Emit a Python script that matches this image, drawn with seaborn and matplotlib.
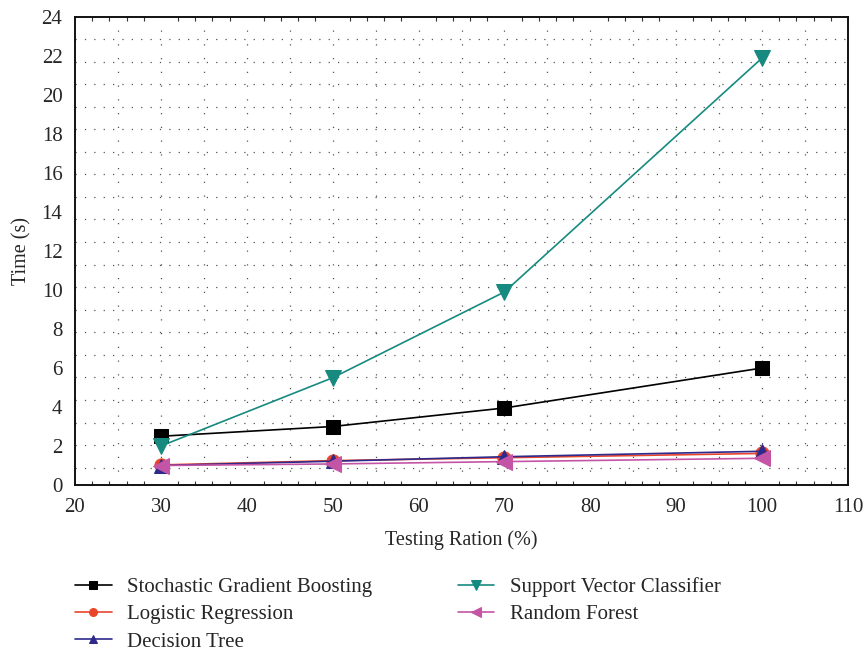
import matplotlib
matplotlib.use("Agg")
import matplotlib.pyplot as plt
import seaborn as sns
import numpy as np
import pandas as pd
from matplotlib.ticker import MultipleLocator

sns.set_theme(style="white")
plt.rcParams["font.family"] = ["Liberation Serif", "DejaVu Serif"]
plt.rcParams["mathtext.fontset"] = "stix"

# Testing ratios (%) and training times (s) per classifier
ratios = [30, 50, 70, 100]
sgb = [2.5, 3.0, 3.95, 6.0]
logreg = [1.03, 1.25, 1.4, 1.62]
dtree = [1.0, 1.22, 1.45, 1.73]
svc = [2.0, 5.5, 9.9, 21.9]
rforest = [1.0, 1.08, 1.2, 1.37]

series = [
    ("Stochastic Gradient Boosting", sgb, "#000000", "s", 9.5),
    ("Logistic Regression", logreg, "#E8452C", "o", 9.5),
    ("Decision Tree", dtree, "#2E2A8C", "^", 10),
    ("Support Vector Classifier", svc, "#178A80", "v", 11),
    ("Random Forest", rforest, "#C455A6", "<", 11),
]

fig = plt.figure(figsize=(8.64, 6.54), dpi=100)
ax = fig.add_axes([0.0868, 0.2584, 0.8947, 0.7156])

# dotted background grid
for yv in 0.89 + 1.157 * np.arange(20):
    ax.axhline(yv, color="#555555", lw=0.9, ls=(0, (1, 6.5)), zorder=0)
for xv in np.arange(25, 110, 5):
    ax.axvline(xv, color="#555555", lw=0.9, ls=(0, (1, 10)), zorder=0)

draw_order = [0, 3, 1, 2, 4]
handles = {}
for i in draw_order:
    name, vals, col, mk, ms = series[i]
    df = pd.DataFrame({"ratio": ratios, "time": vals})
    sns.lineplot(data=df, x="ratio", y="time", ax=ax, color=col, marker=mk,
                 markersize=ms, markeredgecolor=col, linewidth=1.2,
                 label=name, legend=False, zorder=3 + i)
    handles[i] = ax.lines[-1]

ax.set_xlim(20, 110)
ax.set_ylim(0, 24)
ax.xaxis.set_major_locator(MultipleLocator(10))
ax.yaxis.set_major_locator(MultipleLocator(2))
ax.xaxis.set_minor_locator(MultipleLocator(2))
ax.tick_params(axis="both", which="major", labelsize=15, length=0)
ax.tick_params(axis="y", which="major", pad=9)
ax.tick_params(axis="x", which="major", pad=9)
ax.tick_params(axis="x", which="minor", direction="in", length=3, width=0.8,
               bottom=True, top=True, color="#333333")
for sp in ax.spines.values():
    sp.set_color("#111111")
    sp.set_linewidth(1.4)

ax.set_xlabel("Testing Ration (%)", fontsize=14.5, labelpad=10)
ax.set_ylabel("Time (s)", fontsize=14.5, labelpad=7)

order = [0, 1, 2, 3, 4]
fig.legend([handles[i] for i in order], [series[i][0] for i in order],
           loc="upper left", bbox_to_anchor=(0.087, 0.117), ncol=2,
           frameon=False, fontsize=15, handlelength=1.75, handletextpad=0.75,
           columnspacing=4.1, labelspacing=0.36, markerscale=0.6,
           borderaxespad=0, borderpad=0)

fig.savefig("out.png", dpi=100)
